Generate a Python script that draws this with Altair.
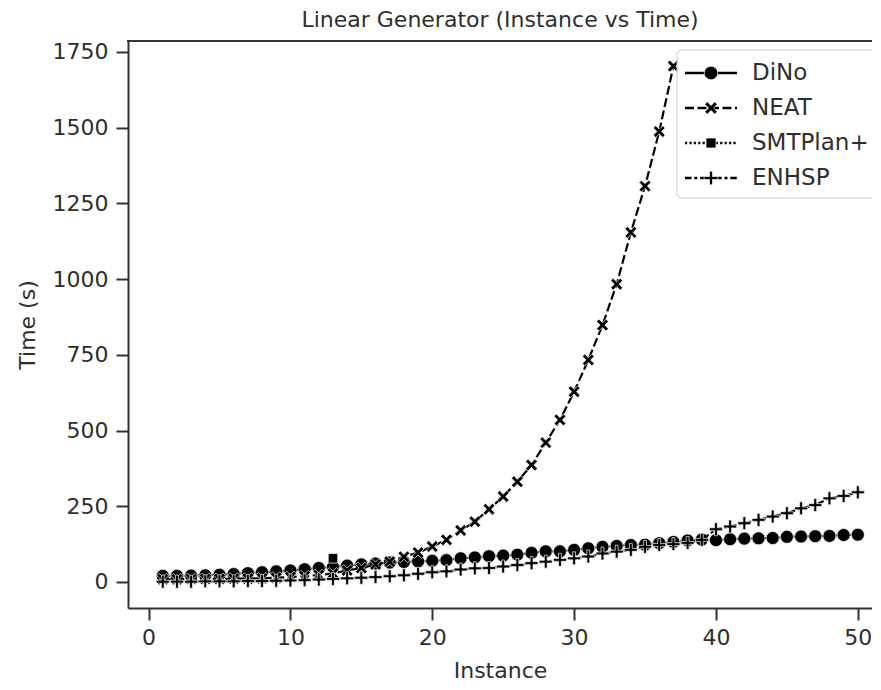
import altair as alt
import pandas as pd

# ---------------- data ----------------
instances = list(range(1, 51))
dino = [20, 20, 21, 22, 24, 26, 29, 32, 35, 38, 42, 46, 50, 54, 58, 61, 64, 66, 68, 70,
        72, 78, 81, 85, 87, 90, 96, 101, 101, 106, 111, 116, 119, 122, 123, 128, 132, 137, 140, 138,
        141, 143, 144, 145, 149, 150, 151, 152, 155, 156]
neat_x = list(range(1, 38))
neat = [9, 9, 10, 10, 10, 11, 11, 12, 14, 16, 19, 23, 28, 38, 46, 58, 67, 83, 97, 117,
        139, 170, 199, 240, 282, 331, 386, 460, 535, 628, 733, 848, 983, 1154, 1307, 1487, 1703]
smt_x = [13]
smt = [78]
enhsp = [1, 1, 1, 2, 2, 2, 3, 3, 4, 5, 6, 8, 10, 12, 14, 16, 19, 22, 27, 32,
         35, 41, 45, 46, 51, 56, 62, 67, 73, 78, 84, 94, 100, 106, 116, 122, 125, 129, 139, 174,
         183, 194, 205, 216, 227, 243, 254, 276, 284, 296]

series_names = ["DiNo", "NEAT", "SMTPlan+", "ENHSP"]
x_ticks = [0, 10, 20, 30, 40, 50]
y_ticks = [0, 250, 500, 750, 1000, 1250, 1500, 1750]

series_data = {
    "DiNo": (instances, dino),
    "NEAT": (neat_x, neat),
    "SMTPlan+": (smt_x, smt),
    "ENHSP": (instances, enhsp),
}

# ---------------- styles ----------------
TXT = "#2e2e2e"
PLUS = "M-1,-0.22H-0.22V-1H0.22V-0.22H1V0.22H0.22V1H-0.22V0.22H-1Z"
XMARK = ("M-1,-0.6L-0.6,-1L0,-0.4L0.6,-1L1,-0.6L0.4,0L1,0.6L0.6,1"
         "L0,0.4L-0.6,1L-1,0.6L-0.4,0Z")
styles = {
    "DiNo": dict(shape="circle", size=170, dash=[1, 0]),
    "NEAT": dict(shape=XMARK, size=140, dash=[9, 3.5]),
    "SMTPlan+": dict(shape="square", size=90, dash=[2.2, 2.2]),
    "ENHSP": dict(shape=PLUS, size=170, dash=[6.5, 2.8, 3, 2.8]),
}

W, H = 744, 567
x_scale = alt.Scale(domain=[-1.45, 51.0], nice=False, zero=False)
y_scale = alt.Scale(domain=[-86, 1786], nice=False, zero=False)

x_axis = alt.Axis(values=x_ticks, title="Instance", grid=False, labelFontSize=22,
                  titleFontSize=22, titleFontWeight="normal", tickSize=12, tickWidth=2,
                  domainWidth=2, domainColor="#333333", tickColor="#333333",
                  labelColor=TXT, titleColor=TXT, labelPadding=7, titlePadding=12)
y_axis = alt.Axis(values=y_ticks, title="Time (s)", format="d", grid=False, labelFontSize=22,
                  titleFontSize=22, titleFontWeight="normal", tickSize=12, tickWidth=2,
                  domainWidth=2, domainColor="#333333", tickColor="#333333",
                  labelColor=TXT, titleColor=TXT, labelPadding=8, titlePadding=13)

layers = []
for name in series_names:
    xs, ys = series_data[name]
    df = pd.DataFrame({"Instance": xs, "Time": ys, "series": name})
    st = styles[name]
    enc = dict(
        x=alt.X("Instance:Q", scale=x_scale, axis=x_axis),
        y=alt.Y("Time:Q", scale=y_scale, axis=y_axis),
    )
    line = alt.Chart(df).mark_line(color="black", strokeWidth=2.2,
                                   strokeDash=st["dash"]).encode(**enc)
    pts = alt.Chart(df).mark_point(filled=True, fill="black", stroke="white",
                                   strokeWidth=0.7, opacity=1, shape=st["shape"],
                                   size=st["size"]).encode(**enc)
    layers += [line, pts]

# top spine
one = pd.DataFrame({"a": [0]})
top = alt.Chart(one).mark_rule(color="#333333", strokeWidth=2).encode(
    x=alt.value(-1), x2=alt.value(W + 20), y=alt.value(0))
layers.append(top)

# legend (decoration)
box = alt.Chart(one).mark_rect(fill="white", fillOpacity=0.85, stroke="#cccccc",
                               strokeWidth=1, cornerRadius=5).encode(
    x=alt.value(549), x2=alt.value(W + 20), y=alt.value(9), y2=alt.value(157))
layers.append(box)
for i, name in enumerate(series_names):
    st = styles[name]
    yy = 32 + 35 * i
    layers.append(alt.Chart(one).mark_rule(color="black", strokeWidth=2.5,
                                           strokeDash=st["dash"]).encode(
        x=alt.value(557), x2=alt.value(609), y=alt.value(yy)))
    layers.append(alt.Chart(one).mark_point(filled=True, fill="black", stroke="white",
                                            strokeWidth=0.7, opacity=1, shape=st["shape"],
                                            size=st["size"] * 1.1).encode(
        x=alt.value(583), y=alt.value(yy)))
    layers.append(alt.Chart(one).mark_text(align="left", baseline="middle", fontSize=23,
                                           color=TXT).encode(
        x=alt.value(624), y=alt.value(yy), text=alt.value(name)))

chart = alt.layer(*layers).properties(
    width=W, height=H,
    title=alt.Title("Linear Generator (Instance vs Time)", fontSize=22,
                    fontWeight="normal", color=TXT, offset=8, anchor="middle"),
    autosize=alt.AutoSizeParams(type="none"),
    padding={"left": 120, "top": 33, "right": 0, "bottom": 74},
).configure(font="DejaVu Sans").configure_view(stroke=None)

chart.save("out.html", embed_options={"renderer": "svg", "actions": False})
